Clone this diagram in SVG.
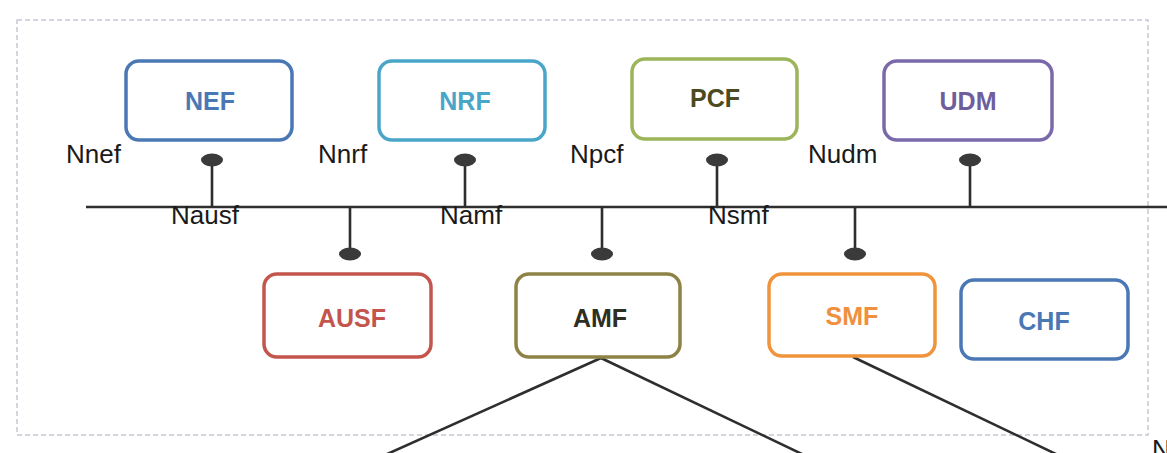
<svg xmlns="http://www.w3.org/2000/svg" width="1167" height="453" viewBox="0 0 1167 453">
<style>
.box{fill:#fff;stroke-width:3.5}
.nm{font-family:"Liberation Sans",Arial,sans-serif;font-weight:bold;font-size:25px;text-anchor:middle}
.lbl{font-family:"Liberation Sans",Arial,sans-serif;font-size:26px;fill:#1a1a1a}
.wire{stroke:#2e2e2e;stroke-width:2.6;fill:none}
.dot{fill:#3a3a3a}
</style>
<rect width="1167" height="453" fill="#fff"/>
<rect x="17" y="20" width="1131" height="415" fill="none" stroke="#c3c8d4" stroke-width="1.5" stroke-dasharray="5 3"/>
<g id="connectors">
<line class="wire" x1="86" y1="207" x2="1167" y2="207"/>
<line class="wire" x1="212" y1="160" x2="212" y2="207"/><ellipse class="dot" cx="212" cy="160" rx="11" ry="6.5"/>
<line class="wire" x1="465" y1="160" x2="465" y2="207"/><ellipse class="dot" cx="465" cy="160" rx="11" ry="6.5"/>
<line class="wire" x1="717" y1="160" x2="717" y2="207"/><ellipse class="dot" cx="717" cy="160" rx="11" ry="6.5"/>
<line class="wire" x1="970" y1="160" x2="970" y2="207"/><ellipse class="dot" cx="970" cy="160" rx="11" ry="6.5"/>
<line class="wire" x1="350" y1="207" x2="350" y2="253"/><ellipse class="dot" cx="350" cy="254" rx="11" ry="6.5"/>
<line class="wire" x1="602" y1="207" x2="602" y2="253"/><ellipse class="dot" cx="602" cy="254" rx="11" ry="6.5"/>
<line class="wire" x1="855" y1="207" x2="855" y2="253"/><ellipse class="dot" cx="855" cy="254" rx="11" ry="6.5"/>
<line class="wire" x1="601" y1="358" x2="385" y2="455"/>
<line class="wire" x1="601" y1="358" x2="804" y2="455"/>
<line class="wire" x1="853" y1="357" x2="1058" y2="455"/>
<text class="lbl" x="66" y="163">Nnef</text>
<text class="lbl" x="318" y="163">Nnrf</text>
<text class="lbl" x="570" y="163">Npcf</text>
<text class="lbl" x="808" y="163">Nudm</text>
<text class="lbl" x="171" y="224">Nausf</text>
<text class="lbl" x="440" y="224">Namf</text>
<text class="lbl" x="708" y="224">Nsmf</text>
<text class="lbl" x="1152" y="458">N</text>
</g>
<g id="NEF"><rect class="box" x="126" y="61" width="166" height="79" rx="13" stroke="#4a78b5"/><text class="nm" x="210" y="110" fill="#4a78b5">NEF</text></g>
<g id="NRF"><rect class="box" x="379" y="61" width="166" height="79" rx="13" stroke="#4aa6c9"/><text class="nm" x="465" y="110" fill="#4aa6c9">NRF</text></g>
<g id="PCF"><rect class="box" x="632" y="59" width="165" height="80" rx="13" stroke="#9cb55a"/><text class="nm" x="715" y="107" fill="#4c4a20">PCF</text></g>
<g id="UDM"><rect class="box" x="884" y="61" width="168" height="79" rx="13" stroke="#7a6aaa"/><text class="nm" x="968" y="110" fill="#6e5e9c">UDM</text></g>
<g id="AUSF"><rect class="box" x="264" y="274" width="167" height="83" rx="13" stroke="#c4554d"/><text class="nm" x="352" y="327" fill="#c4554d">AUSF</text></g>
<g id="AMF"><rect class="box" x="516" y="274" width="164" height="83" rx="13" stroke="#8e8246"/><text class="nm" x="600" y="327" fill="#2e2e22">AMF</text></g>
<g id="SMF"><rect class="box" x="769" y="274" width="166" height="82" rx="13" stroke="#f0943c"/><text class="nm" x="852" y="325" fill="#ef9040">SMF</text></g>
<g id="CHF"><rect class="box" x="961" y="280" width="167" height="79" rx="13" stroke="#4a78b5"/><text class="nm" x="1044" y="330" fill="#4a78b5">CHF</text></g>
</svg>
